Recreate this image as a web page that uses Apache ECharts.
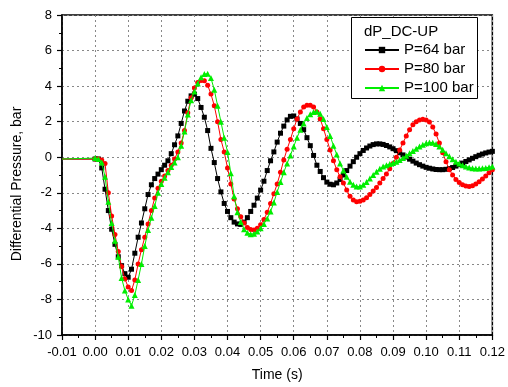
<!DOCTYPE html>
<html>
<head>
<meta charset="utf-8">
<script src="https://cdn.jsdelivr.net/npm/echarts@6/dist/echarts.min.js"></script>
<style>
  html, body { margin: 0; padding: 0; background: #fff; }
  #chart { width: 508px; height: 387px; }
</style>
</head>
<body>
<div id="chart"></div>
<script>
// time base: 0.000 .. 0.120 s, one sample per ms
const timeStart = 0;
const timeStep = 0.001;
const preTrigger = [-0.01, -0.1];

const p64 = [
  -0.1, -0.1, -0.6, -1.8, -3.0, -4.05, -4.9, -5.6, -6.1, -6.55,
  -6.75, -6.3, -5.4, -4.5, -3.7, -2.9, -2.1, -1.55, -1.2, -0.95,
  -0.7, -0.45, -0.2, 0.2, 0.7, 1.2, 1.9, 2.6, 3.15, 3.45,
  3.55, 3.3, 2.8, 2.25, 1.5, 0.5, -0.3, -1.2, -1.95, -2.6,
  -3.05, -3.4, -3.65, -3.75, -3.78, -3.65, -3.4, -3.05, -2.7, -2.3,
  -1.85, -1.35, -0.75, -0.2, 0.3, 0.85, 1.35, 1.75, 2.1, 2.3,
  2.32, 2.15, 1.9, 1.55, 1.1, 0.65, 0.1, -0.45, -0.8, -1.15,
  -1.4, -1.52, -1.55, -1.45, -1.25, -1.0, -0.75, -0.5, -0.25, 0.0,
  0.2, 0.38, 0.52, 0.63, 0.71, 0.75, 0.75, 0.72, 0.66, 0.58,
  0.48, 0.37, 0.25, 0.13, 0.01, -0.11, -0.22, -0.33, -0.42, -0.5,
  -0.57, -0.62, -0.66, -0.69, -0.7, -0.7, -0.68, -0.64, -0.58, -0.5,
  -0.42, -0.33, -0.24, -0.15, -0.06, 0.03, 0.11, 0.18, 0.24, 0.29,
  0.33
];

const p80 = [
  -0.1, -0.1, -0.15, -0.35, -2.0, -3.3, -4.35, -5.3, -6.15, -6.85,
  -7.3, -7.5, -6.9, -6.0, -5.2, -4.5, -3.75, -3.0, -2.3, -1.75,
  -1.35, -1.05, -0.75, -0.45, -0.1, 0.3, 0.8, 1.5, 2.5, 3.35,
  3.9, 4.2, 4.32, 4.3, 4.05, 3.55, 2.9, 2.0, 1.0, 0.3,
  -0.6, -1.5, -2.35, -2.9, -3.35, -3.7, -3.95, -4.07, -4.1, -4.0,
  -3.8, -3.5, -3.1, -2.6, -2.05, -1.5, -0.85, -0.15, 0.45, 1.0,
  1.6, 2.15, 2.55, 2.82, 2.93, 2.93, 2.82, 2.55, 2.15, 1.6,
  1.0, 0.4, -0.2, -0.7, -1.1, -1.45, -1.85, -2.2, -2.4, -2.5,
  -2.48, -2.4, -2.28, -2.1, -1.9, -1.7, -1.45, -1.2, -0.95, -0.65,
  -0.35, 0.0, 0.4, 0.8, 1.2, 1.55, 1.82, 2.0, 2.1, 2.14,
  2.1, 1.98, 1.7, 1.3, 0.8, 0.25, -0.25, -0.7, -1.0, -1.25,
  -1.42, -1.55, -1.62, -1.64, -1.6, -1.5, -1.38, -1.22, -1.05, -0.88,
  -0.7
];

const p100 = [
  -0.05, -0.1, -0.3, -1.1, -2.5, -3.7, -4.7, -5.6, -6.8, -7.5,
  -8.0, -8.35, -7.75, -6.9, -6.0, -5.0, -4.1, -3.4, -2.75, -2.0,
  -1.5, -1.15, -0.85, -0.55, -0.3, 0.0, 0.65, 1.45, 2.4, 3.2,
  3.7, 4.15, 4.5, 4.68, 4.7, 4.45, 3.8, 2.9, 2.0, 1.1,
  0.3, -0.9, -2.2, -3.1, -3.65, -4.05, -4.25, -4.33, -4.3, -4.18,
  -4.0, -3.75, -3.45, -3.05, -2.55, -1.95, -1.4, -0.85, -0.35, 0.1,
  0.6, 1.1, 1.55, 1.9, 2.2, 2.42, 2.55, 2.57, 2.45, 2.15,
  1.7, 1.2, 0.65, 0.15, -0.35, -0.75, -1.1, -1.38, -1.55, -1.65,
  -1.65, -1.55, -1.4, -1.2, -1.0, -0.82, -0.65, -0.52, -0.45, -0.38,
  -0.32, -0.25, -0.15, -0.05, 0.08, 0.22, 0.35, 0.48, 0.6, 0.7,
  0.78, 0.83, 0.82, 0.75, 0.6, 0.42, 0.23, 0.05, -0.12, -0.25,
  -0.36, -0.45, -0.52, -0.58, -0.62, -0.64, -0.64, -0.62, -0.6, -0.56,
  -0.52
];

const seriesNames = ["P=64 bar", "P=80 bar", "P=100 bar"];
const seriesColors = ["#000000", "#ff0000", "#00ee00"];
const seriesSymbols = ["rect", "circle", "triangle"];
const seriesSymbolSizes = [5, 5, 6];

const font = "Arial, 'Liberation Sans', sans-serif";

function buildData(values) {
  // flat pre-trigger part has no markers
  const pts = [{ value: preTrigger, symbol: "none" }];
  values.forEach((v, i) => {
    pts.push([+(timeStart + i * timeStep).toFixed(3), v]);
  });
  return pts;
}

const chart = echarts.init(document.getElementById("chart"), null, { renderer: "canvas" });

const allValues = [p64, p80, p100];

const option = {
  animation: false,
  backgroundColor: "#fff",
  textStyle: { fontFamily: font },
  grid: {
    left: 62,
    right: 12,
    top: 15,
    bottom: 51,
    show: true,
    borderColor: "#000",
    borderWidth: 1.5,
    backgroundColor: "transparent",
  },
  legend: {
    orient: "vertical",
    left: 364,
    top: 42,
    z: 100,
    padding: 0,
    itemWidth: 34,
    itemHeight: 8,
    itemGap: 3,
    textStyle: { fontSize: 15, lineHeight: 16, color: "#000", fontFamily: font },
    data: seriesNames,
  },
  graphic: [
    {
      type: "rect",
      shape: { x: 351.5, y: 17.5, width: 126, height: 81 },
      style: { fill: "#fff", stroke: "#000", lineWidth: 1 },
      z: 50,
    },
    {
      type: "text",
      x: 364,
      y: 32,
      style: { text: "dP_DC-UP", font: "15px " + font, fill: "#000", verticalAlign: "middle" },
      z: 51,
    },
    {
      type: "text",
      x: 17,
      y: 184,
      rotation: Math.PI / 2,
      style: {
        text: "Differential Pressure, bar",
        font: "14px " + font,
        fill: "#000",
        align: "center",
        verticalAlign: "middle",
      },
    },
  ],
  xAxis: {
    type: "value",
    min: -0.01,
    max: 0.12,
    interval: 0.01,
    name: "Time (s)",
    nameLocation: "middle",
    nameGap: 33,
    nameTextStyle: { fontSize: 14, color: "#000", fontFamily: font },
    axisLine: { show: true, onZero: false, lineStyle: { color: "#000", width: 1.5 } },
    axisTick: { show: true, length: 5, lineStyle: { color: "#000", width: 1.2 } },
    minorTick: { show: true, splitNumber: 2, length: 3, lineStyle: { color: "#000" } },
    axisLabel: {
      color: "#000",
      fontSize: 13,
      margin: 11,
      formatter: (v) => v.toFixed(2),
    },
    splitLine: { show: true, lineStyle: { color: "#888", type: [2, 3], width: 1 } },
  },
  yAxis: {
    type: "value",
    min: -10,
    max: 8,
    interval: 2,
    axisLine: { show: true, onZero: false, lineStyle: { color: "#000", width: 1.5 } },
    axisTick: { show: true, length: 5, lineStyle: { color: "#000", width: 1.2 } },
    minorTick: { show: true, splitNumber: 2, length: 3, lineStyle: { color: "#000" } },
    axisLabel: { color: "#000", fontSize: 13, margin: 10 },
    splitLine: { show: true, lineStyle: { color: "#888", type: [2, 3], width: 1 } },
  },
  series: seriesNames.map((name, i) => ({
    name: name,
    type: "line",
    data: buildData(allValues[i]),
    symbol: seriesSymbols[i],
    symbolSize: seriesSymbolSizes[i],
    showSymbol: true,
    lineStyle: { color: seriesColors[i], width: 1 },
    itemStyle: { color: seriesColors[i] },
    z: 2 + i,
  })),
};

chart.setOption(option);
</script>
</body>
</html>
